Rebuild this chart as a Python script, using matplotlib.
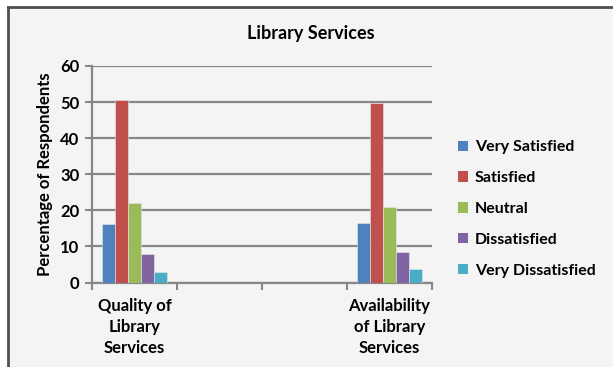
import numpy as np
import matplotlib
matplotlib.use("Agg")
import matplotlib.pyplot as plt
from matplotlib.patches import Rectangle, Patch
from matplotlib.lines import Line2D

plt.rcParams['font.family'] = ['Lato', 'DejaVu Sans']
plt.rcParams['font.weight'] = 'bold'

# survey results (% of respondents); middle two categories are blank slots
categories = ["Quality of\nLibrary\nServices", "", "", "Availability\nof Library\nServices"]
series = ["Very Satisfied", "Satisfied", "Neutral", "Dissatisfied", "Very Dissatisfied"]
very_satisfied = [16.1, np.nan, np.nan, 16.5]
satisfied = [50.5, np.nan, np.nan, 49.8]
neutral = [22.0, np.nan, np.nan, 20.9]
dissatisfied = [7.8, np.nan, np.nan, 8.5]
very_dissatisfied = [2.9, np.nan, np.nan, 3.7]
colors = ["#4f81bd", "#c0504d", "#9bbb59", "#8064a2", "#4bacc6"]

values = [very_satisfied, satisfied, neutral, dissatisfied, very_dissatisfied]

fig = plt.figure(figsize=(6.13, 3.67), dpi=100, facecolor="white")

# chart area background and border (left/top edges only)
fig.patches.append(Rectangle((8 / 613, 0), 1, 1 - 7 / 367, transform=fig.transFigure,
                             facecolor="#f4f4f4", edgecolor="none", zorder=-10))
fig.lines.append(Line2D([8 / 613, 8 / 613], [0, 1 - 7 / 367], transform=fig.transFigure,
                        color="#505050", lw=2, zorder=-5))
fig.lines.append(Line2D([8 / 613, 1], [1 - 7 / 367, 1 - 7 / 367], transform=fig.transFigure,
                        color="#505050", lw=2, zorder=-5))

ax = fig.add_axes([92 / 613, (367 - 282.5) / 367, 340 / 613, 216.5 / 367])
ax.set_facecolor("none")

x = np.arange(len(categories))
w = 0.153
for i, (name, vals) in enumerate(zip(series, values)):
    ax.bar(x + (i - 2) * w, vals, width=w, color=colors[i], label=name,
           edgecolor="#e8e8e8", linewidth=0.4, zorder=3)

ax.set_xlim(-0.5, len(categories) - 0.5)
ax.set_ylim(0, 60)
ax.set_yticks(range(0, 61, 10))
ax.yaxis.grid(True, color="#878787", lw=1.6, zorder=0)
ax.set_axisbelow(True)

# category boundaries get tick marks, centres get the labels
ax.set_xticks(np.arange(-0.5, len(categories), 1.0))
ax.set_xticklabels([])
ax.set_xticks(x, minor=True)
ax.set_xticklabels(categories, minor=True, fontsize=12, fontweight="bold",
                   linespacing=1.4)
ax.tick_params(axis="x", which="major", length=5, width=1.5, color="#878787", direction="out")
ax.tick_params(axis="x", which="minor", length=0, pad=11)
ax.tick_params(axis="y", length=5, width=1.5, color="#878787", labelsize=12, pad=4)
for lbl in ax.get_yticklabels():
    lbl.set_fontweight("bold")

for side in ["top", "right"]:
    ax.spines[side].set_visible(False)
for side in ["left", "bottom"]:
    ax.spines[side].set_color("#878787")
    ax.spines[side].set_linewidth(1.6)

ax.set_ylabel("Percentage of Respondents", fontsize=12, fontweight="bold", labelpad=5)
fig.text(311 / 613, 1 - 33 / 367, "Library Services", ha="center", va="center",
         fontsize=13, fontweight="bold")

handles = [Patch(facecolor=c, edgecolor="none") for c in colors]
fig.legend(handles, series, loc="center left", bbox_to_anchor=(450 / 613, 1 - 209 / 367),
           frameon=False, fontsize=11.5, labelspacing=1.05, handlelength=0.65,
           handleheight=0.65, handletextpad=0.4, borderpad=0)

fig.savefig("out.png", dpi=100, facecolor="white")
